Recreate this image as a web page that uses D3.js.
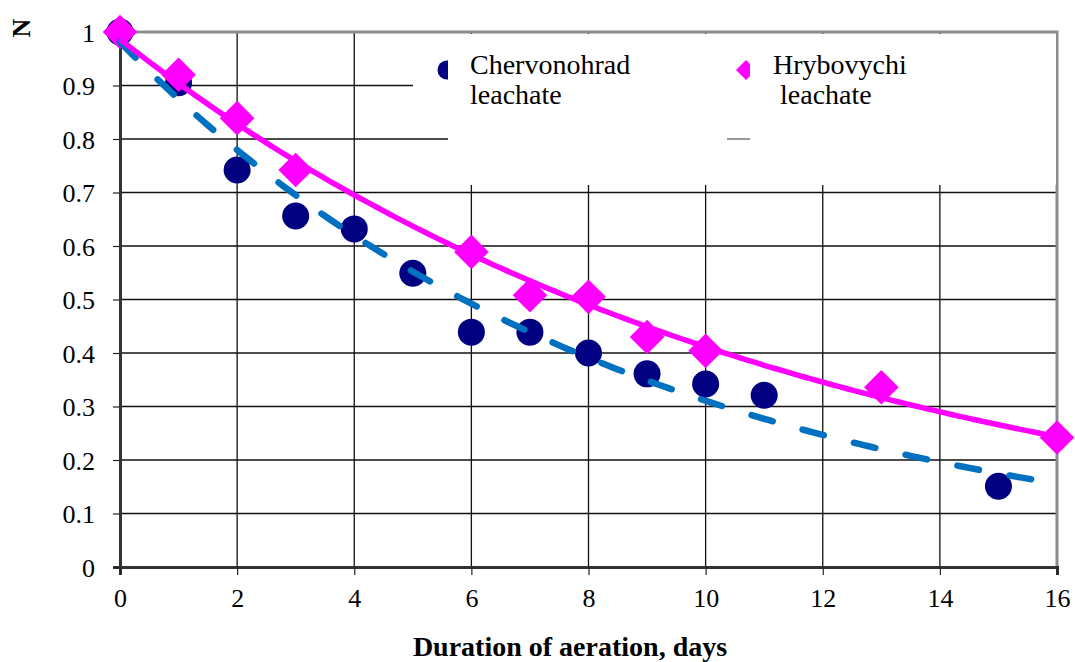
<!DOCTYPE html>
<html>
<head>
<meta charset="utf-8">
<script src="https://cdn.jsdelivr.net/npm/d3@7"></script>
<style>
  html, body { margin: 0; padding: 0; background: #fff; }
  svg { display: block; }
  text { font-family: "Liberation Serif", "Times New Roman", serif; fill: #000; }
</style>
</head>
<body>
<svg id="chart" width="1075" height="662"></svg>
<script>
// data
var chervDays = [0, 1, 2, 3, 4, 5, 6, 7, 8, 9, 10, 11, 15];
var chervN    = [1.0, 0.905, 0.742, 0.656, 0.632, 0.549, 0.439, 0.439, 0.400, 0.361, 0.342, 0.321, 0.151];
var hrybDays  = [0, 1, 2, 3, 6, 7, 8, 9, 10, 13, 16];
var hrybN     = [1.0, 0.92, 0.839, 0.742, 0.589, 0.508, 0.505, 0.430, 0.404, 0.336, 0.242];
var xTicks = [0, 2, 4, 6, 8, 10, 12, 14, 16];
var yTicks = [0, 0.1, 0.2, 0.3, 0.4, 0.5, 0.6, 0.7, 0.8, 0.9, 1];
var legendNames = [["Chervonohrad", "leachate"], ["Hrybovychi", " leachate"]];

var svg = d3.select("#chart");
var x = d3.scaleLinear().domain([0, 16]).range([120, 1057]);
var y = d3.scaleLinear().domain([0, 1]).range([567, 32]);

// exponential trendline, like the spreadsheet one (fit of ln y on x)
function expFit(xs, ys) {
    var n = xs.length;
    var ly = ys.map(function (v) { return Math.log(v); });
    var mx = d3.mean(xs), my = d3.mean(ly);
    var sxy = 0, sxx = 0;
    for (var i = 0; i < n; i++) {
        sxy += (xs[i] - mx) * (ly[i] - my);
        sxx += (xs[i] - mx) * (xs[i] - mx);
    }
    var b = sxy / sxx;
    var a = Math.exp(my - b * mx);
    return function (t) { return a * Math.exp(b * t); };
}
var fitC = expFit(chervDays, chervN);
var fitH = expFit(hrybDays, hrybN);

// grid
var grid = svg.append("g");
grid.selectAll(".hg").data(yTicks.slice(1, -1)).enter().append("line")
    .attr("x1", x(0)).attr("x2", x(16))
    .attr("y1", function (d) { return y(d); }).attr("y2", function (d) { return y(d); })
    .attr("stroke", "#111").attr("stroke-width", 1.3);
grid.selectAll(".vg").data(xTicks.slice(1, -1)).enter().append("line")
    .attr("y1", y(0)).attr("y2", y(1))
    .attr("x1", function (d) { return x(d); }).attr("x2", function (d) { return x(d); })
    .attr("stroke", "#111").attr("stroke-width", 1.3);

// plot frame top/right (grey)
svg.append("path")
    .attr("d", "M" + x(0) + "," + y(1) + "H" + x(16) + "V" + y(0))
    .attr("fill", "none").attr("stroke", "#8c8c8c").attr("stroke-width", 3);

// legend box (covers the grid)
svg.append("rect").attr("x", 413).attr("y", 34).attr("width", 643).attr("height", 77).attr("fill", "#fff");
svg.append("rect").attr("x", 448).attr("y", 110).attr("width", 608).attr("height", 75).attr("fill", "#fff");
svg.append("line").attr("x1", 727).attr("x2", 750).attr("y1", y(0.8)).attr("y2", y(0.8))
    .attr("stroke", "#555").attr("stroke-width", 1.2);

var defs = svg.append("defs");
defs.append("clipPath").attr("id", "clipC").append("rect")
    .attr("x", 420).attr("y", 50).attr("width", 28).attr("height", 40);
defs.append("clipPath").attr("id", "clipH").append("rect")
    .attr("x", 720).attr("y", 50).attr("width", 30).attr("height", 40);

svg.append("g").attr("clip-path", "url(#clipC)")
    .append("circle").attr("cx", 447).attr("cy", 70).attr("r", 9.5)
    .attr("fill", "#000080");
svg.append("g").attr("clip-path", "url(#clipH)")
    .append("path").attr("d", d3.symbol().type(d3.symbolSquare).size(200)())
    .attr("transform", "translate(746,70) rotate(45)")
    .attr("fill", "#ff00ff");

var legX = [470, 773];
legendNames.forEach(function (lines, i) {
    var t = svg.append("text").attr("x", legX[i]).attr("y", 74)
        .style("font-size", "28px").attr("xml:space", "preserve");
    t.append("tspan").attr("x", legX[i]).attr("y", 74).text(lines[0]);
    t.append("tspan").attr("x", legX[i]).attr("y", 104).text(lines[1]);
});

// axes
var yAxis = d3.axisLeft(y).tickValues(yTicks).tickSize(7).tickPadding(18)
    .tickFormat(function (d) { return d === 0 || d === 1 ? d3.format("d")(d) : d3.format(".1f")(d); });
var gy = svg.append("g").attr("transform", "translate(" + x(0) + ",0)").call(yAxis)
    .attr("font-family", "Liberation Serif, serif").attr("font-size", 26);
gy.select(".domain").attr("stroke", "#333").attr("stroke-width", 3);
gy.selectAll(".tick line").attr("stroke", "#222").attr("stroke-width", 1.2);
gy.selectAll(".tick text").attr("font-size", 26).attr("dy", "0.35em");

var xAxis = d3.axisBottom(x).tickValues(xTicks).tickSize(8).tickPadding(14);
var gx = svg.append("g").attr("transform", "translate(0," + y(0) + ")").call(xAxis)
    .attr("font-family", "Liberation Serif, serif").attr("font-size", 26);
gx.select(".domain").attr("stroke", "#333").attr("stroke-width", 3);
gx.selectAll(".tick line").attr("stroke", "#222").attr("stroke-width", 1.2);
gx.selectAll(".tick text").attr("font-size", 26);

svg.append("text").attr("x", 570).attr("y", 656).attr("text-anchor", "middle")
    .style("font-size", "28px").style("font-weight", "bold").text("Duration of aeration, days");
svg.append("text").attr("transform", "translate(30,28) rotate(-90)").attr("text-anchor", "middle")
    .style("font-size", "26px").style("font-weight", "bold").text("N");

// markers
svg.append("g").selectAll("circle").data(chervDays).enter().append("circle")
    .attr("cx", function (d) { return x(d); })
    .attr("cy", function (d, i) { return y(chervN[i]); })
    .attr("r", 13.5).attr("fill", "#000080");

svg.append("g").selectAll("path").data(hrybDays).enter().append("path")
    .attr("d", d3.symbol().type(d3.symbolSquare).size(600)())
    .attr("transform", function (d, i) { return "translate(" + x(d) + "," + y(hrybN[i]) + ") rotate(45)"; })
    .attr("fill", "#ff00ff");

// trendlines
var tx = d3.range(0, 16.001, 0.1);
var line = d3.line().x(function (d) { return x(d[0]); }).y(function (d) { return y(d[1]); });

svg.append("path")
    .attr("d", line(tx.map(function (t) { return [t, fitC(t)]; })))
    .attr("fill", "none").attr("stroke", "#0070c0").attr("stroke-width", 6.5)
    .attr("stroke-linecap", "round").attr("stroke-dasharray", "22,31");

svg.append("path")
    .attr("d", line(tx.map(function (t) { return [t, fitH(t)]; })))
    .attr("fill", "none").attr("stroke", "#ff00ff").attr("stroke-width", 5.5);
</script>
</body>
</html>
